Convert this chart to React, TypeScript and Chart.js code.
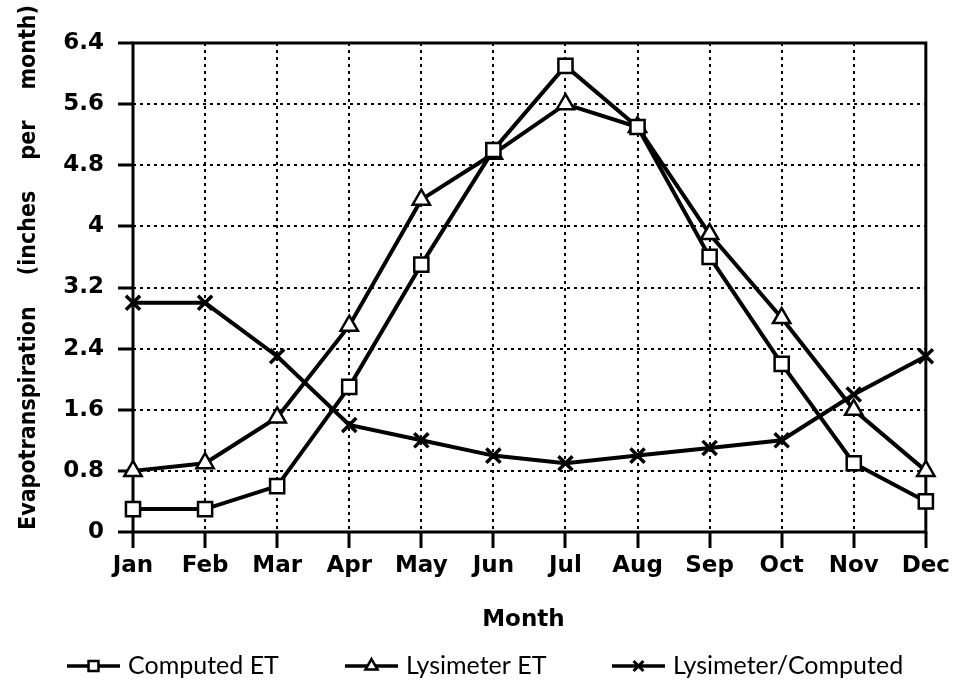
import React, { useEffect, useRef } from "react";
import { Chart, registerables } from "chart.js";

Chart.register(...registerables);

const months = ["Jan", "Feb", "Mar", "Apr", "May", "Jun", "Jul", "Aug", "Sep", "Oct", "Nov", "Dec"];
const computedET = [0.3, 0.3, 0.6, 1.9, 3.5, 5.0, 6.1, 5.3, 3.6, 2.2, 0.9, 0.4];
const lysimeterET = [0.8, 0.9, 1.5, 2.7, 4.35, 4.95, 5.6, 5.3, 3.9, 2.8, 1.6, 0.8];
const lysimeterOverComputed = [3.0, 3.0, 2.3, 1.4, 1.2, 1.0, 0.9, 1.0, 1.1, 1.2, 1.8, 2.3];
const seriesNames = ["Computed ET", "Lysimeter ET", "Lysimeter/Computed"];
const yMin = 0;
const yMax = 6.4;
const yStep = 0.8;
const yTitle = "Evapotranspiration (inches per month)";
const xTitle = "Month";

const FONT = "'DejaVu Sans', sans-serif";
const TITLE_FONT = "'DejaVu Sans Condensed', 'DejaVu Sans', sans-serif";

function drawMarker(ctx: CanvasRenderingContext2D, style: string, x: number, y: number, r: number) {
  ctx.save();
  ctx.lineWidth = 2.5;
  ctx.strokeStyle = "#000";
  ctx.fillStyle = "#fff";
  ctx.beginPath();
  if (style === "rect") {
    const s = r * Math.SQRT1_2;
    ctx.rect(x - s, y - s, 2 * s, 2 * s);
    ctx.fill();
    ctx.stroke();
  } else if (style === "triangle") {
    ctx.moveTo(x, y - r);
    ctx.lineTo(x + r * 0.866, y + r * 0.5);
    ctx.lineTo(x - r * 0.866, y + r * 0.5);
    ctx.closePath();
    ctx.fill();
    ctx.stroke();
  } else {
    const s = r * Math.SQRT1_2;
    ctx.lineWidth = 3;
    ctx.moveTo(x - s, y - s);
    ctx.lineTo(x + s, y + s);
    ctx.moveTo(x + s, y - s);
    ctx.lineTo(x - s, y + s);
    ctx.stroke();
  }
  ctx.restore();
}

export default function App() {
  const ref = useRef<HTMLCanvasElement | null>(null);

  useEffect(() => {
    document.body.style.margin = "0";
    const canvas = ref.current;
    if (!canvas) return;

    const styles = ["rect", "triangle", "crossRot"];
    const radii = [10, 10, 10];

    const decor = {
      id: "decor",
      beforeDatasetsDraw(chart: any) {
        const { ctx, chartArea: a } = chart;
        ctx.save();
        ctx.strokeStyle = "#000";
        ctx.lineWidth = 3;
        ctx.strokeRect(a.left, a.top, a.right - a.left, a.bottom - a.top);
        ctx.restore();
      },
      afterDraw(chart: any) {
        const { ctx, chartArea: a } = chart;
        ctx.save();
        ctx.fillStyle = "#000";
        // y title, stretched with word spacing over y = 530 .. 5
        ctx.save();
        ctx.translate(29, 530);
        ctx.rotate(-Math.PI / 2);
        ctx.font = `bold 23px ${TITLE_FONT}`;
        ctx.textAlign = "left";
        ctx.textBaseline = "middle";
        const natural = ctx.measureText(yTitle).width;
        const spaces = yTitle.split(" ").length - 1;
        const extra = Math.max(0, (525 - natural) / spaces);
        (ctx as any).wordSpacing = `${extra}px`;
        ctx.fillText(yTitle, 0, 0);
        ctx.restore();
        // x title
        ctx.font = `bold 23px ${FONT}`;
        ctx.textAlign = "center";
        ctx.textBaseline = "middle";
        ctx.fillText(xTitle, (a.left + a.right) / 2 - 6, 620);
        // legend
        const lineStarts = [67, 345, 612];
        const lineLen = 53;
        const ly = 666;
        ctx.font = `25px Lato, ${FONT}`;
        ctx.textAlign = "left";
        seriesNames.forEach((name, i) => {
          const x0 = lineStarts[i];
          ctx.save();
          ctx.strokeStyle = "#000";
          ctx.lineWidth = 3.5;
          ctx.beginPath();
          ctx.moveTo(x0, ly);
          ctx.lineTo(x0 + lineLen, ly);
          ctx.stroke();
          ctx.restore();
          drawMarker(ctx, styles[i], x0 + lineLen / 2, ly, 7);
          ctx.fillStyle = "#000";
          ctx.fillText(name, x0 + lineLen + 8, ly);
        });
        ctx.restore();
      },
    };

    const mk = (label: string, data: number[], i: number) => ({
      label,
      data,
      borderColor: "#000",
      borderWidth: 4,
      backgroundColor: "#fff",
      pointStyle: styles[i],
      pointRadius: radii[i],
      pointBorderWidth: i === 2 ? 3.5 : 2.5,
      pointBackgroundColor: "#fff",
      pointBorderColor: "#000",
      fill: false,
      tension: 0,
    });

    const chart = new Chart(canvas, {
      type: "line",
      data: {
        labels: months,
        datasets: [
          mk(seriesNames[0], computedET, 0),
          mk(seriesNames[1], lysimeterET, 1),
          mk(seriesNames[2], lysimeterOverComputed, 2),
        ],
      },
      options: {
        responsive: false,
        animation: false,
        layout: { padding: { left: 0, top: 43, right: 26, bottom: 0 } },
        plugins: { legend: { display: false }, tooltip: { enabled: false } },
        scales: {
          x: {
            offset: false,
            grid: {
              color: "#000",
              lineWidth: 2,
              drawTicks: true,
              tickLength: 16,
              tickWidth: 3,
              tickColor: "#000",
              tickBorderDash: [],
            },
            border: { display: false, dash: [3, 4] },
            ticks: {
              color: "#000",
              font: { family: FONT, size: 23, weight: "bold" },
              padding: 4,
              maxRotation: 0,
              autoSkip: false,
            },
            afterFit(scale: any) {
              scale.height = 154;
            },
          },
          y: {
            min: yMin,
            max: yMax,
            grid: {
              color: "#000",
              lineWidth: 2,
              drawTicks: true,
              tickLength: 15,
              tickWidth: 3,
              tickColor: "#000",
              tickBorderDash: [],
            },
            border: { display: false, dash: [3, 4] },
            ticks: {
              stepSize: yStep,
              color: "#000",
              font: { family: FONT, size: 23, weight: "bold" },
              padding: 14,
              callback: (v: any) => String(parseFloat(Number(v).toFixed(1))),
            },
            afterFit(scale: any) {
              scale.width = 133;
            },
          },
        },
      },
      plugins: [decor],
    } as any);

    return () => chart.destroy();
  }, []);

  return (
    <canvas
      ref={ref}
      width={954}
      height={686}
      style={{ display: "block", position: "absolute", left: 0, top: 0 }}
    />
  );
}
